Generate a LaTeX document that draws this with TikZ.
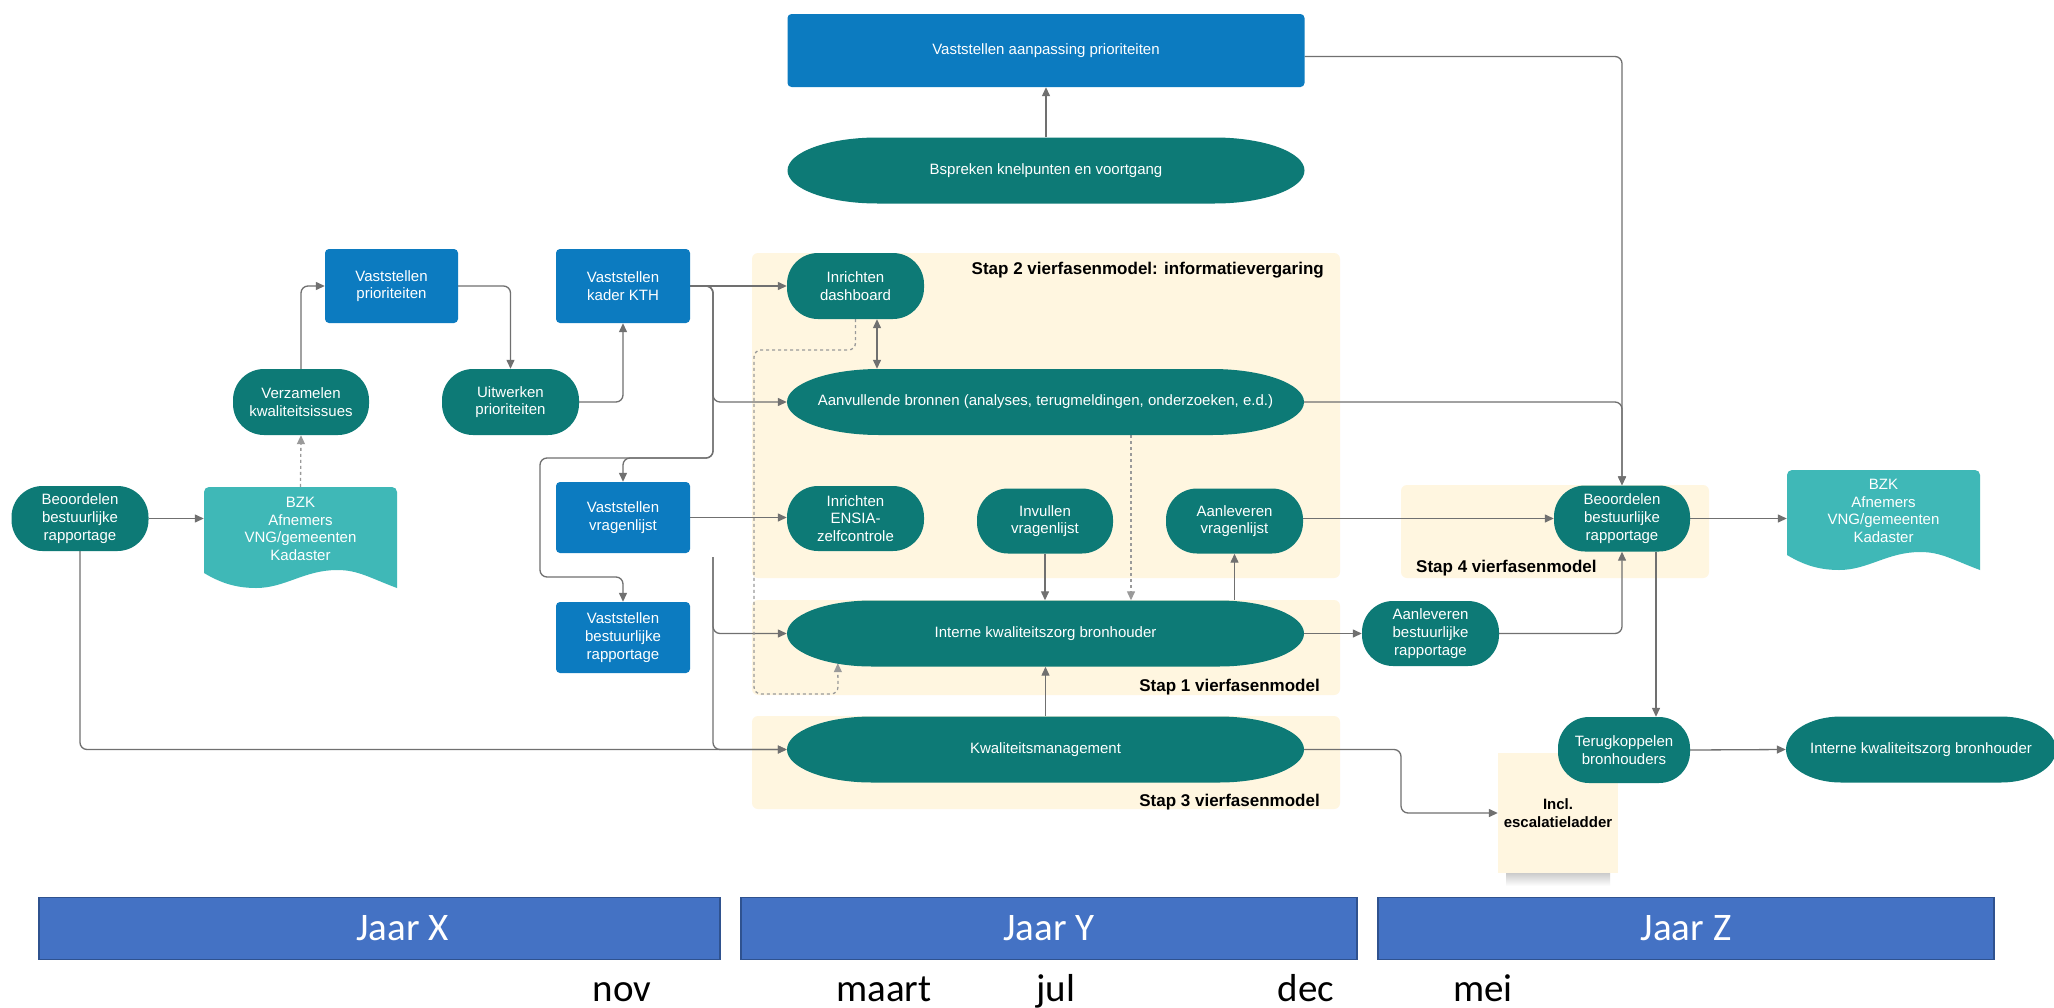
\documentclass[tikz,border=0pt]{standalone}
\usepackage{fontspec}
\setmainfont{Liberation Sans}
\newfontfamily\calib{Carlito}
\usetikzlibrary{arrows.meta}
\pgfdeclarelayer{bg}
\pgfdeclarelayer{mid}
\pgfsetlayers{bg,mid,main}
\definecolor{tealc}{HTML}{0D7A76}
\definecolor{bluec}{HTML}{0C7BC0}
\definecolor{docc}{HTML}{3FB8B7}
\definecolor{contc}{HTML}{FFF6E0}
\definecolor{linec}{HTML}{707070}
\definecolor{dashc}{HTML}{9A9A9A}
\definecolor{barc}{HTML}{4472C4}
\definecolor{barb}{HTML}{2F528F}
\newcommand\docshp[4]{%
\fill[docc] (#1,{#2+20}) [rounded corners=5pt]-- (#1,#2) -- ({#1+#3},#2) [sharp corners]-- ({#1+#3},{#2+#4})
 .. controls ({#1+0.86*#3},{#2+#4-10}) and ({#1+0.8*#3},{#2+#4-18}) .. ({#1+0.69*#3},{#2+#4-18})
 .. controls ({#1+0.52*#3},{#2+#4-18}) and ({#1+0.42*#3},{#2+#4}) .. ({#1+0.27*#3},{#2+#4})
 .. controls ({#1+0.15*#3},{#2+#4}) and ({#1+0.07*#3},{#2+#4-7}) .. (#1,{#2+#4-15}) -- cycle;}
\begin{document}
\begin{tikzpicture}[x=1pt,y=-1pt,
  nt/.style={font=\fontsize{15}{17.7}\selectfont, text=white, align=center, inner sep=0pt},
  bluebox/.style 2 args={nt, fill=bluec, rounded corners=4pt, minimum width=#1, minimum height=#2},
  term/.style 2 args={nt, fill=tealc, rounded corners=31pt, minimum width=#1, minimum height=#2},
  capsule/.style 2 args={nt, minimum width=#1, minimum height=66pt,
    path picture={\fill[tealc] ([xshift=#2pt]path picture bounding box.south west)
      arc[start angle=-90, end angle=-270, x radius=#2pt, y radius=33pt]
      -- ([xshift=-#2pt]path picture bounding box.north east)
      arc[start angle=90, end angle=-90, x radius=#2pt, y radius=33pt] -- cycle;}},
  doctxt/.style 2 args={nt, minimum width=#1, minimum height=#2},
  lab/.style={font=\bfseries\fontsize{17}{20}\selectfont, text=black, inner sep=0pt},
  escb/.style={fill=contc, minimum width=120pt, minimum height=120pt, inner sep=0pt, align=center, text=black, font=\bfseries\fontsize{15}{18}\selectfont},
  conn/.style={draw=linec, line width=1.3pt, rounded corners=7pt, -{Triangle[length=9pt,width=8pt]}},
  dconn/.style={conn, draw=dashc, dash pattern=on 3pt off 3pt},
  yearbar/.style={fill=barc, draw=barb, line width=1.5pt, minimum width=#1, minimum height=62pt, inner sep=0pt, text=white, font=\calib\fontsize{39}{44}\selectfont},
  month/.style={font=\calib\fontsize{39}{44}\selectfont, anchor=base, inner sep=0pt, text=black}
]
\begin{pgfonlayer}{bg}
\fill[white] (0,0) rectangle (2054,1007);
\fill[contc, rounded corners=6pt] (752,253) rectangle (1340,578);
\fill[contc, rounded corners=6pt] (752,600) rectangle (1340,695);
\fill[contc, rounded corners=6pt] (752,716) rectangle (1340,809);
\fill[contc, rounded corners=6pt] (1401,485) rectangle (1709,578);
\shade[top color=black!22, bottom color=white] (1506,872) rectangle (1610,886);
\end{pgfonlayer}
\useasboundingbox (0,0) rectangle (2054,1007);

% container labels
\node[lab, anchor=east] (l2) at (1324,270) {Stap 2 vierfasenmodel: informatievergaring};
\node[lab, anchor=east] (l1) at (1320,687) {Stap 1 vierfasenmodel};
\node[lab, anchor=east] (l3) at (1320,802) {Stap 3 vierfasenmodel};
\node[lab, anchor=west] (l4) at (1416,568) {Stap 4 vierfasenmodel};

% top
\node[bluebox={517}{73}] (vap) at (1046,50.5) {Vaststellen aanpassing prioriteiten};
\node[capsule={517}{90}] (bsp) at (1046,170.5) {Bspreken knelpunten en voortgang};

% left
\node[bluebox={133}{74}] (vp) at (391.5,286) {Vaststellen\\prioriteiten};
\node[bluebox={134}{74}] (kth) at (623,286) {Vaststellen\\kader KTH};
\node[term={136}{66}] (verz) at (301,402) {Verzamelen\\kwaliteitsissues};
\node[term={137}{66}] (uitw) at (510.5,402) {Uitwerken\\prioriteiten};
\node[term={137}{65}] (beo1) at (80,518.5) {Beoordelen\\bestuurlijke\\rapportage};
\docshp{204}{487}{193}{101}
\node[doctxt={193}{84}] (bzk1) at (300.5,529) {BZK\\Afnemers\\VNG/gemeenten\\Kadaster};
\node[bluebox={134}{71}] (vvl) at (623,517.5) {Vaststellen\\vragenlijst};
\node[bluebox={134}{71}] (vbr) at (623,637.5) {Vaststellen\\bestuurlijke\\rapportage};

% middle
\node[term={137}{66}] (dash) at (855.5,286) {Inrichten\\dashboard};
\node[capsule={517}{92}] (aanv) at (1045.5,402) {Aanvullende bronnen (analyses, terugmeldingen, onderzoeken, e.d.)};
\node[term={137}{65}] (ensia) at (855.5,518.5) {Inrichten\\ENSIA-\\zelfcontrole};
\node[term={136}{65}] (invul) at (1045,521) {Invullen\\vragenlijst};
\node[term={137}{65}] (aanvl) at (1234.5,521) {Aanleveren\\vragenlijst};
\node[capsule={517}{85}] (intk) at (1045.5,633.5) {Interne kwaliteitszorg bronhouder};
\node[capsule={517}{85}] (kwal) at (1045.5,749.5) {Kwaliteitsmanagement};

% right
\node[term={136}{66}] (beo2) at (1622,518.5) {Beoordelen\\bestuurlijke\\rapportage};
\docshp{1787}{470}{193}{100}
\node[doctxt={193}{82}] (bzk2) at (1883.5,511) {BZK\\Afnemers\\VNG/gemeenten\\Kadaster};
\node[term={137}{65}] (abr) at (1430.5,633.5) {Aanleveren\\bestuurlijke\\rapportage};
\node[escb] (esc) at (1558,813) {Incl.\\escalatieladder};
\node[term={132}{66}] (terug) at (1624,750) {Terugkoppelen\\bronhouders};
\node[capsule={270}{55}] (intk2) at (1921,749.5) {Interne kwaliteitszorg bronhouder};

% timeline
\node[yearbar=681] (jx) at (379.5,928.5) {\hspace*{46pt}Jaar X};
\node[yearbar=616] (jy) at (1049,928.5) {Jaar Y};
\node[yearbar=616] (jz) at (1686,928.5) {Jaar Z};
\node[month] (mnov) at (622,1001) {nov};
\node[month] (mmaart) at (884,1001) {maart};
\node[month] (mjul) at (1056,1001) {jul};
\node[month] (mdec) at (1306,1001) {dec};
\node[month] (mmei) at (1483,1001) {mei};

% connectors
\coordinate (b0) at (713,340);
\coordinate (b1) at (713,458);
\coordinate (b2) at (540,577);
\coordinate (d0) at (713,557);
\coordinate (dd) at ([xshift=21.5pt]dash.south);
\coordinate (dl1) at (754,350);
\coordinate (dl2) at (838,694);
\coordinate (dl3) at ([xshift=51pt,yshift=3.5pt]intk.south west);
\coordinate (da) at ([xshift=85.5pt]aanv.south);
\coordinate (k1) at (1401,780);
\coordinate (bt) at ([xshift=34pt]beo2.south);
\begin{pgfonlayer}{mid}
\draw[conn] (verz.north) |- (vp.west);
\draw[conn] (vp.east) -| (uitw.north);
\draw[conn] (uitw.east) -| (kth.south);
\draw[conn] (beo1.east) -- (beo1.east -| bzk1.west);
\draw[dconn] (bzk1.north) -- (verz.south);
\draw[conn] (beo1.south) |- (kwal.west);
\draw[conn] (kth.east) -- (dash.west);
\draw[conn] (kth.east) -| (b0) |- (aanv.west);
\draw[conn] (kth.east) -| (b1) -| (vvl.north);
\draw[conn] (kth.east) -| (b1) -| (b2) -| (vbr.north);
\draw[conn] (vvl.east) -- (vvl.east -| ensia.west);
\draw[conn] (d0) |- (intk.west);
\draw[conn] (d0) |- (kwal.west);
\draw[conn, {Triangle[length=9pt,width=8pt]}-{Triangle[length=9pt,width=8pt]}] (dd) -- (dd |- aanv.north);
\draw[dconn] (dash.south) |- (dl1) |- (dl2) -- (dl3);
\draw[dconn] (da) -- (da |- intk.north);
\draw[conn] (invul.south) -- (invul.south |- intk.north);
\draw[conn] (aanvl.south |- intk.north) -- (aanvl.south);
\draw[conn] (kwal.north) -- (intk.south);
\draw[conn] (intk.east) -- (abr.west);
\draw[conn] (kwal.east) -| (k1) |- (esc.west);
\draw[conn] ([yshift=-6pt]vap.east) -| (beo2.north);
\draw[conn] (aanv.east) -| (beo2.north);
\draw[conn] (aanvl.east |- beo2.west) -- (beo2.west);
\draw[conn] (abr.east) -| (beo2.south);
\draw[conn] (bt) -- (bt |- terug.north);
\draw[conn] (beo2.east) -- (beo2.east -| bzk2.west);
\draw[conn] (terug.east) -- (intk2.west);
\draw[conn] (bsp.north) -- (vap.south);
\end{pgfonlayer}
\end{tikzpicture}
\end{document}
